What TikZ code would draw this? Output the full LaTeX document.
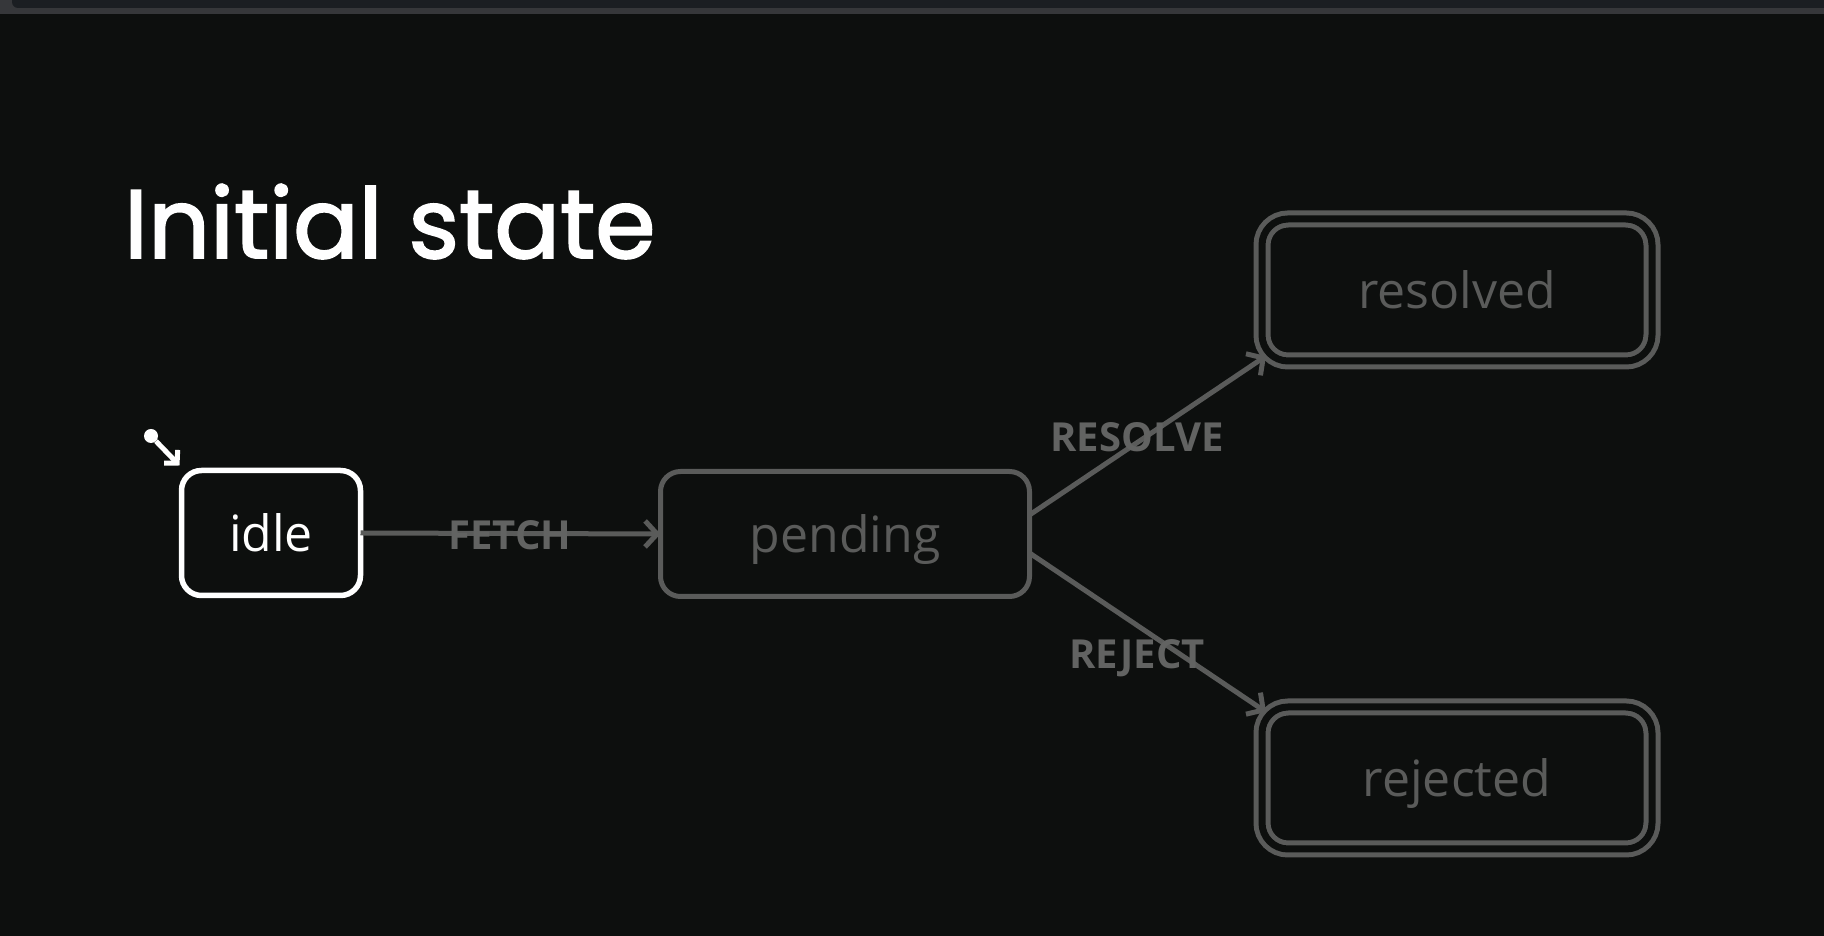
\documentclass[tikz,border=0pt]{standalone}
\usepackage{fontspec}
\setmainfont{Open Sans}
\newfontfamily\titlefont{Poppins}[FakeBold=2]
\usetikzlibrary{arrows.meta,calc}
\definecolor{bg}{HTML}{0D0F0E}
\definecolor{dim}{HTML}{5A5B5A}
\definecolor{dimtext}{HTML}{626362}
\definecolor{barA}{HTML}{1B1E22}
\definecolor{barB}{HTML}{36373A}
\begin{document}
\begin{tikzpicture}[x=1pt,y=1pt,
  statebox/.style={draw=dim, line width=5pt, rounded corners=20pt, text=dim,
    font=\fontsize{50}{60}\selectfont, minimum width=369pt, minimum height=125pt,
    text depth=0pt, inner sep=0pt, outer sep=0pt},
  activebox/.style={statebox, draw=white, text=white, line width=5.5pt,
    minimum width=179pt, minimum height=125pt},
  finalbox/.style={statebox, double=bg, double distance=7pt, rounded corners=26pt,
    minimum width=390pt, minimum height=142pt},
  trans/.style={draw=dim, line width=5pt, -{Straight Barb[length=12pt,width=26pt]}},
  evlabel/.style={text=dimtext, font=\bfseries\fontsize{40}{48}\selectfont, inner sep=0pt},
]
\useasboundingbox (0,0) rectangle (1824,936);
\fill[bg] (0,0) rectangle (1824,936);
% top window bar
\fill[barB] (0,922) rectangle (1824,936);
\fill[barA, rounded corners=6pt] (12,928) rectangle (1830,945);

% title
\node[anchor=base west, inner sep=0pt, text=white, font=\titlefont\fontsize{97}{110}\selectfont] (title) at (124,678) {Initial state};

% states
\node[activebox] (idle) at (271,403) {idle};
\node[statebox] (pending) at (845,402) {pending};
\node[finalbox] (resolved) at (1457,646) {resolved};
\node[finalbox] (rejected) at (1457,158) {rejected};

% initial marker
\node[circle, fill=white, minimum size=14pt, inner sep=0pt] (init) at (151,500) {};
\coordinate (idleIn) at ($(idle.north west)+(-2,5)$);
\draw[white, line width=5pt, -{Straight Barb[length=9pt,width=19pt]}] (init) -- (idleIn);

% transitions
\coordinate (pendUp) at ($(pending.east)+(0,19)$);
\coordinate (pendDown) at ($(pending.east)+(0,-19)$);
\coordinate (resIn) at ($(resolved.south west)+(4,5)$);
\coordinate (rejIn) at ($(rejected.north west)+(4,-5)$);

\draw[trans] (idle.east) -- (pending.west);
\draw[trans] (pendUp) -- (resIn);
\draw[trans] (pendDown) -- (rejIn);

\node[evlabel] (fetch) at (510,401) {FETCH};
\node[evlabel] (resolve) at (1137,499) {RESOLVE};
\node[evlabel] (reject) at (1137,278) {REJECT};
\end{tikzpicture}
\end{document}
